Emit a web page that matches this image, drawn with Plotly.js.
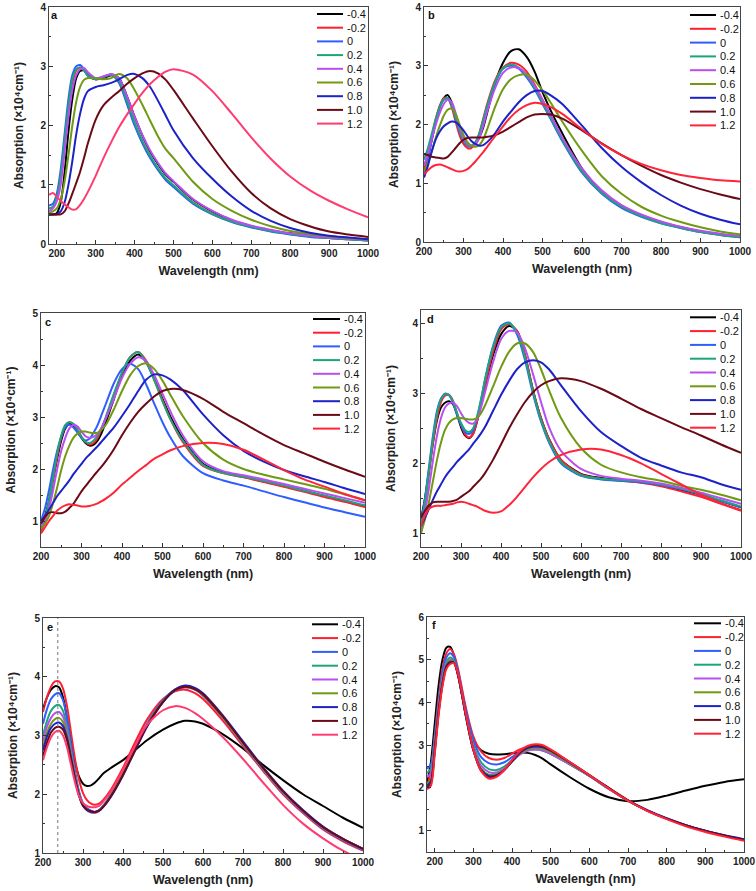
<!DOCTYPE html>
<html><head><meta charset="utf-8">
<script src="https://cdn.plot.ly/plotly-3.0.1.min.js"></script>
<style>html,body{margin:0;padding:0;background:#fff}#chart{width:756px;height:891px}</style>
</head><body><div id="chart"></div>
<script>
// ---------------- DATA ----------------
const seriesLabels = ['-0.4','-0.2','0','0.2','0.4','0.6','0.8','1.0','1.2'];
const panelLetters = ['a','b','c','d','e','f'];

// Panel a
const a_x   = [180,190,200,210,220,230,240,250,260,270,280,300,320,340,360,380,400,420,440,460,480,500,550,600,650,700,750,800,850,900,950,1000];
const a_n04 = [0.5,0.5,0.52,0.7,1.2,1.9,2.45,2.8,2.92,2.93,2.85,2.78,2.8,2.85,2.8,2.5,2.15,1.83,1.56,1.35,1.17,1.05,0.75,0.55,0.4,0.3,0.23,0.18,0.14,0.11,0.09,0.07];
const a_n02 = [0.6,0.62,0.75,1.1,1.7,2.3,2.72,2.93,2.98,2.93,2.84,2.78,2.82,2.86,2.74,2.4,2.03,1.72,1.47,1.27,1.1,0.98,0.7,0.51,0.38,0.29,0.22,0.17,0.13,0.1,0.08,0.06];
const a_0   = [0.65,0.68,0.85,1.25,1.85,2.45,2.85,3.0,3.02,2.95,2.85,2.78,2.82,2.85,2.72,2.37,2.0,1.7,1.45,1.25,1.08,0.96,0.68,0.5,0.37,0.28,0.21,0.16,0.12,0.1,0.08,0.06];
const a_02  = [0.6,0.63,0.8,1.15,1.75,2.35,2.78,2.95,2.98,2.93,2.84,2.78,2.82,2.86,2.75,2.42,2.05,1.74,1.49,1.28,1.11,0.99,0.7,0.51,0.38,0.29,0.22,0.17,0.13,0.1,0.08,0.06];
const a_04  = [0.55,0.6,0.72,1.0,1.55,2.15,2.6,2.85,2.95,2.97,2.9,2.8,2.83,2.87,2.8,2.5,2.15,1.84,1.58,1.37,1.19,1.06,0.76,0.56,0.41,0.31,0.24,0.18,0.14,0.11,0.09,0.07];
const a_06  = [0.52,0.55,0.6,0.75,1.05,1.5,2.0,2.4,2.65,2.77,2.8,2.8,2.78,2.8,2.87,2.8,2.6,2.35,2.08,1.82,1.6,1.45,1.05,0.76,0.56,0.41,0.3,0.22,0.17,0.13,0.1,0.08];
const a_08  = [0.5,0.5,0.5,0.55,0.7,1.0,1.4,1.85,2.2,2.45,2.58,2.65,2.68,2.72,2.78,2.85,2.87,2.8,2.65,2.42,2.17,1.92,1.45,1.1,0.8,0.56,0.39,0.27,0.19,0.14,0.11,0.08];
const a_10  = [0.5,0.5,0.5,0.5,0.55,0.68,0.85,1.03,1.22,1.45,1.7,2.1,2.34,2.47,2.58,2.7,2.8,2.88,2.92,2.88,2.77,2.6,2.12,1.65,1.22,0.86,0.6,0.42,0.3,0.21,0.16,0.12];
const a_12  = [0.83,0.86,0.8,0.73,0.67,0.62,0.58,0.59,0.66,0.76,0.88,1.15,1.45,1.72,1.97,2.18,2.37,2.55,2.7,2.82,2.91,2.95,2.86,2.58,2.2,1.8,1.44,1.14,0.91,0.73,0.58,0.45];

// Panel b
const b_x   = [200,210,220,230,240,250,260,270,280,290,300,310,320,330,340,350,360,380,400,420,440,460,480,500,520,550,600,650,700,750,800,850,900,950,1000];
const b_n04 = [1.2,1.45,1.75,2.05,2.3,2.45,2.5,2.38,2.15,1.92,1.75,1.66,1.63,1.67,1.78,1.95,2.2,2.7,3.05,3.25,3.28,3.15,2.9,2.55,2.25,1.85,1.25,0.85,0.6,0.45,0.33,0.25,0.18,0.13,0.09];
const b_n02 = [1.25,1.5,1.8,2.1,2.32,2.45,2.45,2.3,2.05,1.82,1.67,1.6,1.6,1.68,1.85,2.1,2.35,2.75,2.97,3.05,3.02,2.9,2.68,2.42,2.15,1.75,1.2,0.85,0.62,0.46,0.34,0.25,0.18,0.13,0.09];
const b_0   = [1.1,1.4,1.75,2.05,2.3,2.42,2.45,2.33,2.1,1.88,1.72,1.64,1.63,1.68,1.82,2.05,2.3,2.7,2.95,3.0,2.95,2.8,2.6,2.35,2.1,1.72,1.18,0.82,0.58,0.43,0.32,0.24,0.17,0.12,0.08];
const b_02  = [1.4,1.6,1.85,2.1,2.3,2.43,2.45,2.35,2.12,1.9,1.73,1.65,1.64,1.7,1.85,2.08,2.32,2.72,2.96,3.02,2.97,2.83,2.62,2.37,2.12,1.74,1.2,0.84,0.6,0.44,0.32,0.24,0.17,0.12,0.08];
const b_04  = [1.3,1.5,1.75,2.0,2.2,2.35,2.42,2.38,2.2,1.95,1.77,1.67,1.64,1.66,1.77,1.98,2.22,2.62,2.88,2.97,2.96,2.85,2.66,2.42,2.17,1.78,1.25,0.88,0.63,0.47,0.35,0.26,0.19,0.14,0.1];
const b_06  = [1.2,1.35,1.55,1.78,1.98,2.15,2.25,2.27,2.18,2.0,1.82,1.7,1.64,1.62,1.65,1.75,1.92,2.3,2.6,2.77,2.84,2.85,2.75,2.58,2.38,2.05,1.55,1.12,0.82,0.6,0.45,0.34,0.25,0.18,0.13];
const b_08  = [1.1,1.3,1.55,1.75,1.88,1.97,2.02,2.05,2.04,1.98,1.9,1.8,1.72,1.67,1.64,1.65,1.7,1.85,2.05,2.22,2.38,2.5,2.57,2.57,2.5,2.35,1.98,1.6,1.28,1.02,0.8,0.62,0.48,0.38,0.3];
const b_10  = [1.5,1.48,1.45,1.44,1.43,1.42,1.45,1.52,1.6,1.68,1.74,1.77,1.78,1.78,1.78,1.78,1.79,1.82,1.88,1.96,2.04,2.12,2.17,2.18,2.17,2.1,1.9,1.68,1.48,1.3,1.14,1.01,0.9,0.81,0.73];
const b_12  = [1.15,1.22,1.28,1.31,1.32,1.3,1.27,1.24,1.21,1.2,1.21,1.24,1.3,1.37,1.45,1.53,1.62,1.8,1.97,2.13,2.25,2.33,2.37,2.35,2.3,2.18,1.92,1.67,1.48,1.33,1.22,1.14,1.09,1.05,1.03];

// Panel c
const c_x   = [200,210,220,230,240,250,260,270,280,290,300,310,320,330,340,350,360,380,400,420,440,460,480,500,520,550,600,650,700,750,800,850,900,950,1000];
const c_n04 = [0.95,1.1,1.4,1.8,2.2,2.55,2.78,2.87,2.83,2.72,2.6,2.5,2.45,2.47,2.55,2.7,2.9,3.35,3.8,4.08,4.2,4.05,3.72,3.35,3.0,2.58,2.1,1.93,1.85,1.76,1.67,1.58,1.48,1.38,1.28];
const c_n02 = [0.8,1.0,1.35,1.8,2.25,2.6,2.82,2.9,2.86,2.75,2.62,2.52,2.47,2.5,2.6,2.78,2.98,3.42,3.85,4.15,4.25,4.08,3.72,3.32,2.95,2.52,2.06,1.92,1.84,1.75,1.66,1.56,1.46,1.37,1.27];
const c_0   = [1.0,1.25,1.6,2.0,2.35,2.62,2.8,2.85,2.8,2.7,2.6,2.55,2.58,2.7,2.85,3.05,3.25,3.65,3.92,4.02,3.92,3.62,3.25,2.9,2.6,2.25,1.92,1.78,1.68,1.57,1.46,1.36,1.26,1.17,1.08];
const c_02  = [0.85,1.05,1.4,1.85,2.3,2.65,2.85,2.9,2.87,2.77,2.62,2.52,2.5,2.55,2.65,2.8,3.0,3.45,3.85,4.15,4.25,4.05,3.7,3.3,2.95,2.55,2.08,1.92,1.85,1.77,1.68,1.58,1.49,1.4,1.3];
const c_04  = [0.9,1.0,1.25,1.6,2.0,2.35,2.6,2.78,2.85,2.82,2.72,2.63,2.6,2.62,2.68,2.8,2.97,3.35,3.75,4.02,4.15,4.07,3.8,3.45,3.1,2.65,2.15,1.96,1.88,1.8,1.71,1.62,1.53,1.44,1.35];
const c_06  = [0.85,0.95,1.1,1.35,1.65,1.98,2.25,2.45,2.6,2.68,2.72,2.72,2.7,2.69,2.7,2.76,2.85,3.15,3.5,3.8,3.98,4.03,3.92,3.7,3.42,3.02,2.5,2.18,2.0,1.89,1.8,1.71,1.62,1.51,1.4];
const c_08  = [1.0,1.1,1.22,1.35,1.48,1.58,1.68,1.78,1.9,2.0,2.1,2.2,2.28,2.36,2.44,2.53,2.62,2.8,3.02,3.25,3.5,3.72,3.82,3.8,3.72,3.52,3.05,2.65,2.35,2.14,1.98,1.86,1.75,1.63,1.52];
const c_10  = [0.95,1.08,1.16,1.17,1.15,1.15,1.18,1.25,1.33,1.45,1.57,1.67,1.77,1.87,1.96,2.05,2.15,2.38,2.65,2.89,3.1,3.26,3.4,3.5,3.54,3.52,3.35,3.1,2.88,2.66,2.46,2.3,2.14,1.99,1.85];
const c_12  = [0.76,0.88,1.0,1.1,1.2,1.26,1.3,1.32,1.31,1.3,1.28,1.28,1.29,1.31,1.34,1.38,1.43,1.55,1.7,1.83,1.96,2.08,2.2,2.28,2.36,2.44,2.5,2.48,2.37,2.18,1.98,1.8,1.66,1.52,1.4];

// Panel d
const d_x   = [200,210,220,230,240,250,260,270,280,290,300,310,320,330,340,350,360,380,400,420,440,460,480,500,520,550,600,650,700,750,800,850,900,950,1000];
const d_n04 = [1.2,1.5,1.9,2.3,2.62,2.8,2.87,2.89,2.85,2.7,2.52,2.4,2.36,2.42,2.6,2.85,3.1,3.55,3.85,3.97,3.9,3.55,3.05,2.65,2.35,2.05,1.85,1.79,1.76,1.73,1.69,1.62,1.55,1.46,1.37];
const d_n02 = [1.1,1.4,1.85,2.3,2.65,2.88,2.97,2.98,2.9,2.72,2.55,2.42,2.37,2.42,2.6,2.85,3.12,3.6,3.92,4.0,3.9,3.55,3.05,2.65,2.35,2.05,1.84,1.78,1.75,1.72,1.67,1.6,1.52,1.42,1.32];
const d_0   = [1.15,1.5,1.95,2.4,2.75,2.93,3.0,2.98,2.87,2.7,2.55,2.45,2.42,2.47,2.65,2.9,3.2,3.68,3.97,4.02,3.85,3.48,3.0,2.6,2.3,2.0,1.82,1.77,1.75,1.73,1.69,1.63,1.55,1.46,1.37];
const d_02  = [1.1,1.45,1.9,2.35,2.72,2.92,2.99,2.98,2.88,2.72,2.58,2.48,2.45,2.5,2.67,2.92,3.2,3.66,3.95,4.01,3.88,3.52,3.03,2.62,2.32,2.02,1.83,1.78,1.76,1.74,1.7,1.64,1.56,1.47,1.38];
const d_04  = [1.0,1.3,1.65,2.05,2.4,2.65,2.8,2.86,2.87,2.82,2.72,2.63,2.58,2.57,2.63,2.8,3.02,3.45,3.78,3.9,3.88,3.65,3.28,2.88,2.52,2.18,1.92,1.82,1.78,1.75,1.71,1.65,1.58,1.5,1.42];
const d_06  = [1.0,1.2,1.45,1.75,2.05,2.3,2.48,2.58,2.63,2.65,2.65,2.64,2.63,2.63,2.65,2.72,2.83,3.1,3.38,3.6,3.72,3.72,3.6,3.35,3.05,2.65,2.22,1.98,1.87,1.8,1.75,1.68,1.62,1.55,1.47];
const d_08  = [1.1,1.22,1.35,1.48,1.6,1.7,1.8,1.88,1.95,2.02,2.08,2.14,2.2,2.28,2.35,2.43,2.52,2.75,2.98,3.18,3.35,3.45,3.48,3.45,3.35,3.12,2.75,2.45,2.25,2.08,1.97,1.87,1.8,1.7,1.62];
const d_10  = [1.22,1.32,1.4,1.44,1.45,1.45,1.45,1.45,1.46,1.48,1.52,1.56,1.6,1.66,1.72,1.78,1.86,2.05,2.27,2.5,2.7,2.88,3.02,3.12,3.18,3.22,3.18,3.07,2.93,2.78,2.65,2.52,2.4,2.27,2.15];
const d_12  = [1.1,1.25,1.35,1.38,1.39,1.39,1.4,1.41,1.42,1.44,1.45,1.44,1.42,1.4,1.38,1.35,1.32,1.29,1.31,1.4,1.52,1.66,1.8,1.92,2.02,2.12,2.2,2.2,2.12,2.0,1.85,1.7,1.55,1.43,1.33];

// Panel e
const e_x   = [200,210,220,230,240,250,260,270,280,290,300,310,320,330,340,350,370,400,430,460,500,530,555,580,600,650,700,750,800,850,900,950,1000];
const e_n04 = [3.45,3.65,3.78,3.84,3.82,3.65,3.3,2.9,2.55,2.3,2.18,2.14,2.15,2.2,2.27,2.35,2.45,2.58,2.75,2.92,3.1,3.2,3.25,3.24,3.2,3.02,2.78,2.5,2.24,2.0,1.8,1.6,1.43];
const e_n02 = [3.4,3.65,3.83,3.92,3.92,3.8,3.5,3.05,2.6,2.25,2.02,1.9,1.84,1.82,1.84,1.9,2.08,2.45,2.88,3.27,3.62,3.75,3.78,3.72,3.62,3.25,2.82,2.4,2.0,1.68,1.4,1.2,1.04];
const e_0   = [3.2,3.45,3.62,3.7,3.72,3.6,3.3,2.85,2.4,2.05,1.85,1.76,1.72,1.7,1.73,1.8,2.0,2.38,2.8,3.2,3.6,3.78,3.83,3.78,3.68,3.3,2.85,2.42,2.02,1.7,1.42,1.22,1.05];
const e_02  = [3.0,3.25,3.42,3.5,3.52,3.42,3.15,2.75,2.35,2.02,1.83,1.74,1.7,1.69,1.72,1.79,1.98,2.36,2.78,3.18,3.58,3.77,3.82,3.78,3.68,3.3,2.86,2.43,2.03,1.71,1.43,1.23,1.06];
const e_04  = [2.9,3.15,3.3,3.38,3.4,3.32,3.08,2.7,2.32,2.0,1.82,1.73,1.69,1.68,1.71,1.78,1.97,2.35,2.77,3.18,3.58,3.77,3.82,3.78,3.68,3.3,2.86,2.43,2.03,1.71,1.43,1.23,1.06];
const e_06  = [2.8,3.05,3.2,3.28,3.3,3.23,3.02,2.66,2.3,1.99,1.82,1.73,1.7,1.69,1.72,1.79,1.98,2.35,2.77,3.17,3.58,3.78,3.83,3.79,3.69,3.31,2.87,2.44,2.04,1.72,1.44,1.24,1.07];
const e_08  = [2.75,2.98,3.13,3.2,3.22,3.16,2.96,2.62,2.27,1.98,1.8,1.73,1.7,1.7,1.72,1.78,1.96,2.32,2.74,3.15,3.57,3.78,3.85,3.81,3.72,3.34,2.9,2.46,2.06,1.73,1.45,1.24,1.07];
const e_10  = [2.65,2.88,3.05,3.13,3.15,3.1,2.92,2.6,2.26,1.98,1.81,1.74,1.71,1.7,1.72,1.78,1.97,2.33,2.75,3.16,3.57,3.77,3.83,3.79,3.7,3.32,2.88,2.45,2.05,1.72,1.44,1.24,1.07];
const e_12  = [2.58,2.8,2.97,3.06,3.08,3.0,2.8,2.5,2.2,1.97,1.85,1.8,1.78,1.78,1.8,1.87,2.05,2.42,2.82,3.18,3.43,3.5,3.47,3.38,3.28,2.97,2.6,2.2,1.82,1.5,1.25,1.04,0.88];
const e_markerWavelength = [237];

// Panel f
const f_x   = [180,190,200,210,220,230,240,250,260,270,280,300,320,340,360,380,400,420,440,460,480,500,550,600,650,700,750,800,850,900,950,1000];
const f_n04 = [2.1,2.6,3.5,4.4,5.0,5.28,5.3,5.1,4.7,4.2,3.75,3.1,2.88,2.8,2.78,2.79,2.81,2.83,2.82,2.77,2.68,2.55,2.25,1.98,1.78,1.69,1.72,1.82,1.94,2.05,2.14,2.2];
const f_n02 = [2.0,2.4,3.2,4.1,4.8,5.15,5.25,5.12,4.8,4.35,3.9,3.2,2.85,2.7,2.66,2.7,2.8,2.9,2.96,2.97,2.92,2.82,2.55,2.28,1.98,1.7,1.47,1.28,1.12,0.99,0.88,0.78];
const f_0   = [2.45,2.55,3.2,4.0,4.7,5.05,5.15,5.05,4.75,4.3,3.85,3.12,2.72,2.58,2.55,2.6,2.72,2.84,2.9,2.92,2.88,2.8,2.55,2.28,1.98,1.7,1.47,1.28,1.12,0.99,0.88,0.79];
const f_02  = [2.35,2.45,3.1,3.95,4.6,4.95,5.05,4.97,4.68,4.22,3.75,3.0,2.6,2.44,2.42,2.5,2.65,2.8,2.88,2.9,2.87,2.8,2.55,2.28,1.98,1.7,1.47,1.28,1.12,0.99,0.88,0.78];
const f_04  = [2.25,2.35,3.0,3.9,4.55,4.9,5.0,4.95,4.65,4.2,3.72,2.95,2.52,2.37,2.36,2.45,2.62,2.78,2.87,2.9,2.88,2.8,2.55,2.28,1.98,1.7,1.47,1.28,1.12,0.99,0.88,0.78];
const f_06  = [2.1,2.2,2.95,3.85,4.5,4.87,4.98,4.95,4.65,4.2,3.7,2.9,2.45,2.31,2.32,2.43,2.62,2.8,2.9,2.94,2.92,2.84,2.57,2.29,1.99,1.7,1.47,1.28,1.12,0.99,0.88,0.78];
const f_08  = [2.05,2.15,2.9,3.8,4.45,4.85,4.95,4.93,4.65,4.2,3.7,2.88,2.42,2.28,2.3,2.42,2.62,2.82,2.93,2.97,2.95,2.87,2.59,2.3,2.0,1.71,1.48,1.29,1.13,1.0,0.89,0.8];
const f_10  = [2.0,2.1,2.85,3.75,4.42,4.82,4.93,4.92,4.65,4.22,3.72,2.88,2.4,2.25,2.28,2.42,2.63,2.84,2.96,3.0,2.97,2.88,2.6,2.3,2.0,1.71,1.47,1.28,1.12,0.99,0.88,0.78];
const f_12  = [1.97,2.05,2.8,3.7,4.38,4.78,4.9,4.92,4.68,4.25,3.75,2.9,2.4,2.22,2.26,2.42,2.65,2.86,2.98,3.02,3.0,2.9,2.6,2.3,1.99,1.7,1.46,1.27,1.1,0.97,0.86,0.76];

// ---------------- STYLE / LAYOUT ----------------
const W = 756, H = 891;
const baseColors = ['#000000','#ff1f2e','#2f5dff','#1aa57a','#b84ef0','#6f9a12','#1c22c8','#6b0a16'];
const pink = '#ff3b72', red12 = '#ff2438';

const panels = [
  {x:a_x, ys:[a_n04,a_n02,a_0,a_02,a_04,a_06,a_08,a_10,a_12], c12:pink,  box:[49,368,7,244],  xr:[180,1000], yr:[0,4],    ytick0:0, leg:[317,343,14,13.7],   let:[54,15]},
  {x:b_x, ys:[b_n04,b_n02,b_0,b_02,b_04,b_06,b_08,b_10,b_12], c12:red12, box:[424,740,7,242], xr:[200,1000], yr:[0,4],    ytick0:0, leg:[690,716,15,13.8],   let:[431,15]},
  {x:c_x, ys:[c_n04,c_n02,c_0,c_02,c_04,c_06,c_08,c_10,c_12], c12:red12, box:[41,365,313,547], xr:[200,1000], yr:[0.5,5],  ytick0:1, leg:[313,340,319,13.7],  let:[48,322]},
  {x:d_x, ys:[d_n04,d_n02,d_0,d_02,d_04,d_06,d_08,d_10,d_12], c12:red12, box:[421,741,310,547], xr:[200,1000], yr:[0.8,4.2],ytick0:1, leg:[690,716,317.3,13.8],let:[430,319]},
  {x:e_x, ys:[e_n04,e_n02,e_0,e_02,e_04,e_06,e_08,e_10,e_12], c12:pink,  box:[43,363,618,853], xr:[200,1000], yr:[1,5],    ytick0:1, leg:[312,338,624.3,13.8],let:[50,627]},
  {x:f_x, ys:[f_n04,f_n02,f_0,f_02,f_04,f_06,f_08,f_10,f_12], c12:red12, box:[427,744,617,852], xr:[180,1000], yr:[0.5,6],  ytick0:1, leg:[694,721,623.3,13.8],let:[434,625]}
];

const FONT = 'Liberation Sans, Arial, sans-serif';
const traces = [], annotations = [], shapes = [];
const layout = {
  width: W, height: H, margin: {l:0, r:0, t:0, b:0},
  paper_bgcolor: '#ffffff', plot_bgcolor: '#ffffff',
  showlegend: false, font: {family: FONT, color: '#111'}
};

panels.forEach((p, i) => {
  const s = i === 0 ? '' : String(i + 1);
  const colors = baseColors.concat([p.c12]);
  p.ys.forEach((y, j) => {
    traces.push({
      x: p.x, y: y, xaxis: 'x' + s, yaxis: 'y' + s, type: 'scatter', mode: 'lines',
      name: seriesLabels[j], hoverinfo: 'skip',
      line: {color: colors[j], width: 2, shape: 'spline', smoothing: 0.8}
    });
  });
  const [l, r, t, b] = p.box;
  layout['xaxis' + s] = {
    domain: [l / W, r / W], anchor: 'y' + s, range: p.xr,
    tickmode: 'linear', tick0: 200, dtick: 100,
    ticks: 'inside', ticklen: 4, tickwidth: 1, tickcolor: '#333',
    minor: {ticks: 'inside', ticklen: 2, dtick: 50, tickcolor: '#333'},
    showline: true, linecolor: '#444', linewidth: 1, mirror: true,
    showgrid: false, zeroline: false,
    tickfont: {family: FONT, size: 10, weight: 'bold', color: '#222'},
    title: {text: 'Wavelength (nm)', font: {family: FONT, size: 12.5, weight: 'bold', color: '#222'}, standoff: 8}
  };
  layout['yaxis' + s] = {
    domain: [1 - b / H, 1 - t / H], anchor: 'x' + s, range: p.yr,
    tickmode: 'linear', tick0: p.ytick0, dtick: 1,
    ticks: 'inside', ticklen: 4, tickwidth: 1, tickcolor: '#333',
    minor: {ticks: 'inside', ticklen: 2, dtick: 0.5, tickcolor: '#333'},
    showline: true, linecolor: '#444', linewidth: 1, mirror: true,
    showgrid: false, zeroline: false,
    tickfont: {family: FONT, size: 10, weight: 'bold', color: '#222'},
    title: {text: 'Absorption (\u00d710\u2074cm\u207b\u00b9)', font: {family: FONT, size: 12, weight: 'bold', color: '#222'}, standoff: 14}
  };
  // legend drawn inside each panel
  const [lx0, lx1, ly0, lstep] = p.leg;
  seriesLabels.forEach((lab, j) => {
    const yy = 1 - (ly0 + j * lstep) / H;
    shapes.push({type: 'line', xref: 'paper', yref: 'paper', x0: lx0 / W, x1: lx1 / W, y0: yy, y1: yy,
      line: {color: colors[j], width: 2}});
    annotations.push({xref: 'paper', yref: 'paper', x: (lx1 + 2) / W, y: yy, xanchor: 'left', yanchor: 'middle',
      text: lab, showarrow: false, font: {family: FONT, size: 11, color: '#111'}});
  });
  annotations.push({xref: 'paper', yref: 'paper', x: p.let[0] / W, y: 1 - p.let[1] / H, xanchor: 'center', yanchor: 'middle',
    text: panelLetters[i], showarrow: false, font: {family: FONT, size: 11, weight: 'bold', color: '#111'}});
});

// dotted reference line in panel e
e_markerWavelength.forEach(w => {
  shapes.push({type: 'line', xref: 'x5', yref: 'y5 domain', x0: w, x1: w, y0: 0, y1: 1,
    line: {color: '#777', width: 1, dash: 'dot'}});
});

layout.annotations = annotations;
layout.shapes = shapes;
Plotly.newPlot('chart', traces, layout, {staticPlot: true, displayModeBar: false});
</script>
</body></html>
